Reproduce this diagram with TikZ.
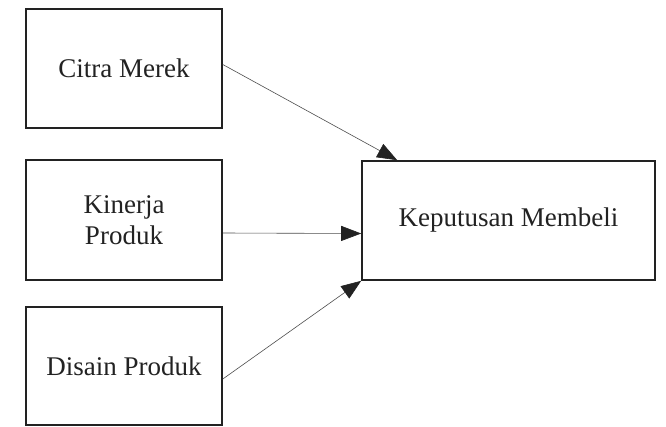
\documentclass[tikz,border=0pt]{standalone}
\usepackage{fontspec}
\setmainfont{Liberation Serif}
\usetikzlibrary{arrows.meta}
\definecolor{ink}{HTML}{222222}
\begin{document}
\begin{tikzpicture}[x=1pt,y=-1pt,
  varbox/.style={draw=ink,line width=1.6pt,fill=white,text=ink,inner sep=0pt,
    font=\fontsize{27}{31}\selectfont,align=center},
  link/.style={draw=ink!80,line width=0.6pt,
    -{Triangle[length=20pt,width=15pt,color=ink]}}]
\useasboundingbox[fill=white] (0,0) rectangle (666,426);
% independent variables
\node[varbox,minimum width=196pt,minimum height=119pt] (citra) at (124,68.5) {Citra Merek};
\node[varbox,minimum width=196pt,minimum height=120pt] (kinerja) at (124,220) {Kinerja\\Produk};
\node[varbox,minimum width=196pt,minimum height=118pt] (disain) at (124,366) {Disain Produk};
% dependent variable
\node[varbox,minimum width=293pt,minimum height=119pt] (keputusan) at (508.5,220.5) {Keputusan Membeli};
% relations
\draw[link] ([yshift=4pt]citra.east) -- ([xshift=36pt]keputusan.north west);
\draw[link] ([yshift=-13pt]kinerja.east) -- ([yshift=-13pt]keputusan.west);
\draw[link] ([yshift=-13pt]disain.east) -- (keputusan.south west);
\end{tikzpicture}
\end{document}
